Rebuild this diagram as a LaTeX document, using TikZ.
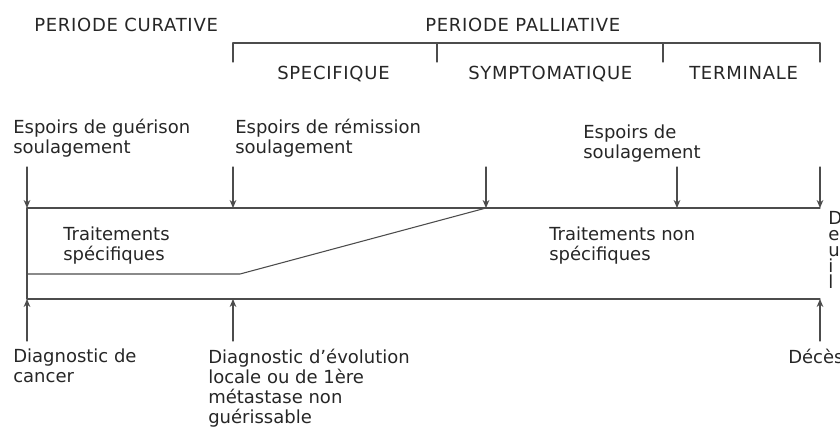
\documentclass[tikz,border=0pt]{standalone}
\usepackage{fontspec}
\setmainfont{DejaVu Sans}
\newfontfamily\capsfont[LetterSpace=4]{DejaVu Sans}
\usetikzlibrary{arrows.meta}

\begin{document}
\begin{tikzpicture}[x=0.75pt, y=-0.75pt, line cap=round, line join=round,
    >={Stealth[length=6pt, width=5pt]},
    ln/.style={draw=black!70, line width=0.8pt},
    lbl/.style={inner sep=0pt, anchor=north west, align=left, text=black!85,
      font=\fontsize{13.5}{15}\selectfont, execute at begin node=\strut},
    per/.style={lbl, font=\fontsize{13.5}{15}\capsfont}]
    \useasboundingbox (0,0) rectangle (840,430);
    \clip (0,0) rectangle (840,430);
    % periodes
    \node[per] (cur) at (34,17) {PERIODE CURATIVE};
    \node[per] (pal) at (425,17) {PERIODE PALLIATIVE};
    \draw[ln] (233,62) -- (233,43) -- (820,43) -- (820,62);
    \draw[ln] (437,43) -- (437,62);
    \draw[ln] (663,43) -- (663,62);
    \node[per] (spe) at (277,65) {SPECIFIQUE};
    \node[per] (sym) at (468,65) {SYMPTOMATIQUE};
    \node[per] (ter) at (689,65) {TERMINALE};
    % bande des traitements
    \coordinate (tl) at (27,208);
    \coordinate (tr) at (820,208);
    \coordinate (bl) at (27,299);
    \coordinate (br) at (820,299);
    \coordinate (k) at (240,274);
    \coordinate (m) at (486,208);
    \draw[ln] (tr) -- (tl) -- (bl) -- (br);
    \draw[ln] (27,274) -- (k) -- (m);
    \node[lbl] (ts) at (63,227) {Traitements\\spécifiques};
    \node[lbl] (tn) at (549,227) {Traitements non\\spécifiques};
    % fleches
    \foreach \name/\x in {guer/27, remi/233, symp/486, soul/677, deuil/820} {
      \coordinate (\name-s) at (\x,167);
      \coordinate (\name) at (\x,208);
      \draw[ln, ->] (\name-s) -- (\name);
    }
    \foreach \name/\x in {diag/27, evol/233, deces/820} {
      \coordinate (\name-s) at (\x,341);
      \coordinate (\name) at (\x,299);
      \draw[ln, ->] (\name-s) -- (\name);
    }
    \node[lbl] (eg) at (13,119) {Espoirs de guérison\\soulagement};
    \node[lbl] (er) at (235,119) {Espoirs de rémission\\soulagement};
    \node[lbl] (es) at (583,125) {Espoirs de\\soulagement};
    \node[lbl] (dc) at (13,349) {Diagnostic de\\cancer};
    \node[lbl] (de) at (208,349) {Diagnostic d’évolution\\locale ou de 1ère\\métastase non\\guérissable};
    \node[lbl] (dd) at (788,349) {Décès};
    \node[lbl, font=\fontsize{13.5}{12}\selectfont] (dl) at (828,211.6) {D\\e\\u\\i\\l};
\end{tikzpicture}
\end{document}
